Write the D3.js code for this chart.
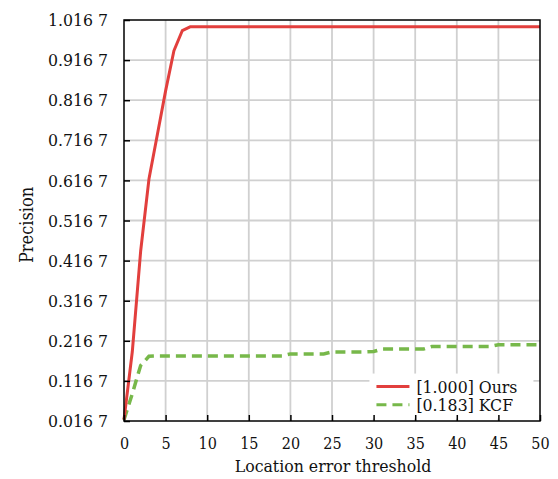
<!DOCTYPE html>
<html>
<head>
<meta charset="utf-8">
<script src="https://cdn.jsdelivr.net/npm/d3@7"></script>
<style>
  body { margin: 0; background: #fff; }
  .grid line { stroke: #d0d0d0; stroke-width: 1.8; }
  svg text { font-stretch: condensed; }
</style>
</head>
<body>
<div id="chart"></div>
<script>
// data
var thresholds = [0, 1, 2, 3, 4, 5, 6, 7, 8, 9, 10, 11, 12, 13, 14, 15, 16, 17, 18, 19, 20,
    21, 22, 23, 24, 25, 26, 27, 28, 29, 30, 31, 32, 33, 34, 35, 36, 37, 38, 39, 40,
    41, 42, 43, 44, 45, 46, 47, 48, 49, 50];
var oursValues = [0.02, 0.19, 0.44, 0.62, 0.73, 0.84, 0.94, 0.99, 1.0, 1.0, 1.0,
    1.0, 1.0, 1.0, 1.0, 1.0, 1.0, 1.0, 1.0, 1.0, 1.0,
    1.0, 1.0, 1.0, 1.0, 1.0, 1.0, 1.0, 1.0, 1.0, 1.0,
    1.0, 1.0, 1.0, 1.0, 1.0, 1.0, 1.0, 1.0, 1.0, 1.0,
    1.0, 1.0, 1.0, 1.0, 1.0, 1.0, 1.0, 1.0, 1.0, 1.0];
var kcfValues = [0.02, 0.085, 0.155, 0.178, 0.179, 0.179, 0.179, 0.179, 0.179, 0.179, 0.179,
    0.179, 0.179, 0.179, 0.179, 0.179, 0.179, 0.179, 0.179, 0.179, 0.184,
    0.184, 0.184, 0.184, 0.184, 0.189, 0.189, 0.189, 0.189, 0.189, 0.19,
    0.196, 0.196, 0.196, 0.196, 0.196, 0.196, 0.2025, 0.2025, 0.2025, 0.2025,
    0.2025, 0.2025, 0.2025, 0.2025, 0.207, 0.207, 0.207, 0.207, 0.207, 0.207];
var seriesNames = ["[1.000] Ours", "[0.183] KCF"];
var xTicks = [0, 5, 10, 15, 20, 25, 30, 35, 40, 45, 50];
var yTicks = [0.0167, 0.1167, 0.2167, 0.3167, 0.4167, 0.5167, 0.6167, 0.7167, 0.8167, 0.9167, 1.0167];
var yTickLabels = ["0.016 7", "0.116 7", "0.216 7", "0.316 7", "0.416 7", "0.516 7",
    "0.616 7", "0.716 7", "0.816 7", "0.916 7", "1.016 7"];

var serif = "'DejaVu Serif', serif";

var svgWidth = 558;
var svgHeight = 479;
var margin = { top: 20, right: 18, bottom: 58, left: 124 };
var width = svgWidth - margin.left - margin.right;
var height = svgHeight - margin.top - margin.bottom;

var svg = d3.select("#chart")
    .append("svg")
    .attr("width", svgWidth)
    .attr("height", svgHeight);

var chart = svg.append("g")
    .attr("transform", `translate(${margin.left}, ${margin.top})`);

var xScale = d3.scaleLinear().domain([0, 50]).range([0, width]);
var yScale = d3.scaleLinear().domain([0.0167, 1.0167]).range([height, 0]);

// grid
chart.append("g")
    .attr("class", "grid")
    .selectAll("line.v")
    .data(xTicks.slice(1, -1))
    .enter()
    .append("line")
    .attr("x1", d => xScale(d))
    .attr("x2", d => xScale(d))
    .attr("y1", 0)
    .attr("y2", height);

chart.append("g")
    .attr("class", "grid")
    .selectAll("line.h")
    .data(yTicks.slice(1, -1))
    .enter()
    .append("line")
    .attr("x1", 0)
    .attr("x2", width)
    .attr("y1", d => yScale(d))
    .attr("y2", d => yScale(d));

// lines
var line = d3.line()
    .x(d => xScale(d[0]))
    .y(d => yScale(d[1]));

var oursData = thresholds.map((t, i) => [t, oursValues[i]]);
var kcfData = thresholds.map((t, i) => [t, kcfValues[i]]);

chart.append("path")
    .datum(kcfData)
    .attr("fill", "none")
    .attr("stroke", "#77b84a")
    .attr("stroke-width", 3.5)
    .attr("stroke-dasharray", "10,6")
    .attr("d", line);

chart.append("path")
    .datum(oursData)
    .attr("fill", "none")
    .attr("stroke", "#e23f3d")
    .attr("stroke-width", 3)
    .attr("stroke-linejoin", "round")
    .attr("d", line);

// legend
var legend = chart.append("g")
    .attr("transform", `translate(${xScale(29.5)}, ${yScale(0.135)})`);

legend.append("rect")
    .attr("x", 0)
    .attr("y", 0)
    .attr("width", 164)
    .attr("height", 45)
    .attr("fill", "#fff");

var legendItems = [
    { name: seriesNames[0], color: "#e23f3d", dash: null },
    { name: seriesNames[1], color: "#77b84a", dash: "10,6" }
];

legendItems.forEach(function(item, i) {
    var y = 13 + i * 18.3;
    legend.append("line")
        .attr("x1", 7)
        .attr("x2", 40)
        .attr("y1", y)
        .attr("y2", y)
        .attr("stroke", item.color)
        .attr("stroke-width", 3)
        .attr("stroke-dasharray", item.dash);
    legend.append("text")
        .attr("x", 47)
        .attr("y", y + 6)
        .style("font-family", serif)
        .style("font-size", "17.5px")
        .attr("fill", "#111")
        .text(item.name);
});

// axes
var bottomAxis = d3.axisBottom(xScale)
    .tickValues(xTicks)
    .tickSizeInner(-6)
    .tickSizeOuter(0)
    .tickPadding(17);

var leftAxis = d3.axisLeft(yScale)
    .tickValues(yTicks)
    .tickFormat((d, i) => yTickLabels[i])
    .tickSizeInner(-6)
    .tickSizeOuter(0)
    .tickPadding(16);

var xAxis = chart.append("g")
    .attr("transform", `translate(0, ${height})`)
    .call(bottomAxis);
xAxis.attr("font-family", serif);
xAxis.selectAll("text")
    .style("font-family", serif)
    .style("font-size", "16px")
    .attr("fill", "#111");

var yAxis = chart.append("g")
    .call(leftAxis);
yAxis.attr("font-family", serif);
yAxis.selectAll("text")
    .style("font-family", serif)
    .style("font-size", "17.5px")
    .attr("fill", "#111");

svg.selectAll(".domain").remove();
chart.selectAll(".tick line").attr("stroke", "#000").attr("stroke-width", 1.5);

// frame
chart.append("rect")
    .attr("x", 0)
    .attr("y", 0)
    .attr("width", width)
    .attr("height", height)
    .attr("fill", "none")
    .attr("stroke", "#000")
    .attr("stroke-width", 1.5);

// axis titles
chart.append("text")
    .attr("x", width / 2 + 1)
    .attr("y", height + 51)
    .attr("text-anchor", "middle")
    .style("font-family", serif)
    .style("font-size", "17.5px")
    .attr("fill", "#111")
    .text("Location error threshold");

chart.append("text")
    .attr("transform", "rotate(-90)")
    .attr("x", -205)
    .attr("y", -91)
    .attr("text-anchor", "middle")
    .style("font-family", serif)
    .style("font-size", "18px")
    .attr("fill", "#111")
    .text("Precision");
</script>
</body>
</html>
